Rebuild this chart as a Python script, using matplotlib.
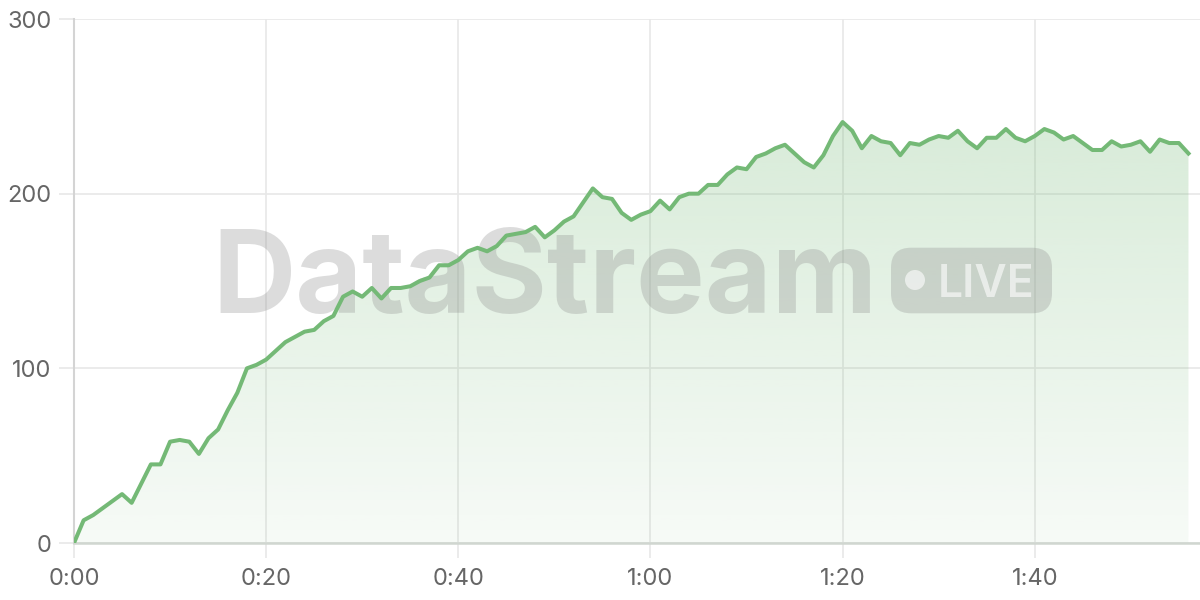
import numpy as np
import matplotlib.pyplot as plt
from matplotlib.patches import FancyBboxPatch, Circle

# viewers per second of the stream, sampled once a second
values = [0, 13, 16, 20, 24, 28, 23, 34, 45, 45,
          58, 59, 58, 51, 60, 65, 76, 86, 100, 102,
          105, 110, 115, 118, 121, 122, 127, 130, 141, 144,
          141, 146, 140, 146, 146, 147, 150, 152, 159, 159,
          162, 167, 169, 167, 170, 176, 177, 178, 181, 175,
          179, 184, 187, 195, 203, 198, 197, 189, 185, 188,
          190, 196, 191, 198, 200, 200, 205, 205, 211, 215,
          214, 221, 223, 226, 228, 223, 218, 215, 222, 233,
          241, 236, 226, 233, 230, 229, 222, 229, 228, 231,
          233, 232, 236, 230, 226, 232, 232, 237, 232, 230,
          233, 237, 235, 231, 233, 229, 225, 225, 230, 227,
          228, 230, 224, 231, 229, 229, 223]
seconds = np.arange(len(values))

xticks = [0, 20, 40, 60, 80, 100]
xticklabels = ["0:00", "0:20", "0:40", "1:00", "1:20", "1:40"]
yticks = [0, 100, 200, 300]

line_color = "#74b976"
grid_color = "#e8e8e8"
label_color = "#666666"

plt.rcParams['font.family'] = ['Inter', 'DejaVu Sans']

fig = plt.figure(figsize=(12, 6), dpi=100)
ax = fig.add_axes([74 / 1200, 57 / 600, 1126 / 1200, 524 / 600])

y = np.array(values, dtype=float)
ax.set_xlim(0, 117.2)
ax.set_ylim(0, 300)

# gradient fill under the line
poly = ax.fill_between(seconds, y, 0, color="none", lw=0)
grad = np.linspace(0.28, 0.06, 256).reshape(-1, 1)
rgba = np.zeros((256, 1, 4))
rgba[..., 0] = 0x74 / 255
rgba[..., 1] = 0xb9 / 255
rgba[..., 2] = 0x76 / 255
rgba[..., 3] = grad
img = ax.imshow(rgba, extent=[0, seconds[-1], 0, max(values)], aspect="auto",
                origin="upper", zorder=1)
img.set_clip_path(poly.get_paths()[0], transform=ax.transData)

ax.plot(seconds, y, color=line_color, lw=2.9, zorder=4, solid_joinstyle="round")

ax.set_xticks(xticks)
ax.set_xticklabels(xticklabels)
ax.set_yticks(yticks)
ax.grid(True, color=grid_color, lw=1.2, zorder=0)
ax.set_axisbelow(True)
ax.tick_params(axis="both", length=11, width=1.2, color=grid_color,
               labelsize=17, labelcolor=label_color)
ax.tick_params(axis="x", pad=7)
ax.tick_params(axis="y", pad=5)
for side in ["top", "right"]:
    ax.spines[side].set_visible(False)
ax.spines["left"].set_color("#d4d4d4")
ax.spines["left"].set_linewidth(1.5)
ax.spines["bottom"].set_color("#d0d6d0")
ax.spines["bottom"].set_linewidth(1.8)

# watermark
inch = fig.dpi_scale_trans
ax.text(2.12, 6 - 3.13, "DataStream", transform=inch, fontsize=83,
        fontweight="bold", color="#8c8c8c",
        alpha=0.3, ha="left", va="baseline", zorder=3)
badge = FancyBboxPatch((8.91, 6 - 3.133), 1.61, 0.656,
                       boxstyle="round,pad=0,rounding_size=0.2",
                       transform=inch, fc="#8c8c8c", ec="none", alpha=0.3,
                       zorder=3)
ax.add_artist(badge)
ax.add_artist(Circle((9.15, 6 - 2.80), 0.10, transform=inch, fc="white",
                     ec="none", alpha=0.6, zorder=3.1))
ax.text(9.38, 6 - 2.973, "LIVE", transform=inch, fontsize=32,
        fontweight="semibold", color="white", alpha=0.6,
        ha="left", va="baseline", zorder=3.1)

fig.savefig("out.png", dpi=100)
